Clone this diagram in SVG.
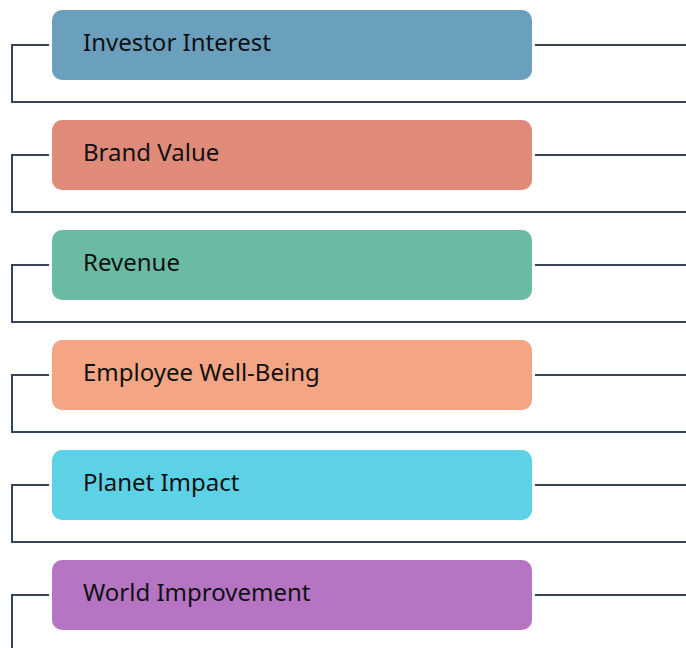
<svg xmlns="http://www.w3.org/2000/svg" width="686" height="648" viewBox="0 0 686 648">
<style>
.c{fill:none;stroke:#36445a;stroke-width:2}
.t{font-family:"Noto Sans","Open Sans",sans-serif;font-size:24px;fill:#111}
</style>
<rect width="686" height="648" fill="#fff"/>
<g id="connectors">
<path class="c" d="M49,45H12V102H686"/><path class="c" d="M535,45H686"/>
<path class="c" d="M49,155H12V212H686"/><path class="c" d="M535,155H686"/>
<path class="c" d="M49,265H12V322H686"/><path class="c" d="M535,265H686"/>
<path class="c" d="M49,375H12V432H686"/><path class="c" d="M535,375H686"/>
<path class="c" d="M49,485H12V542H686"/><path class="c" d="M535,485H686"/>
<path class="c" d="M49,595H12V648"/><path class="c" d="M535,595H686"/>
</g>
<g id="n1"><rect x="52" y="10" width="480" height="70" rx="10" fill="#6b9fbe"/><text class="t" x="83" y="51">Investor Interest</text></g>
<g id="n2"><rect x="52" y="120" width="480" height="70" rx="10" fill="#e08a7a"/><text class="t" x="83" y="161">Brand Value</text></g>
<g id="n3"><rect x="52" y="230" width="480" height="70" rx="10" fill="#6bbaa4"/><text class="t" x="83" y="271">Revenue</text></g>
<g id="n4"><rect x="52" y="340" width="480" height="70" rx="10" fill="#f4a583"/><text class="t" x="83" y="381">Employee Well-Being</text></g>
<g id="n5"><rect x="52" y="450" width="480" height="70" rx="10" fill="#5dd1e6"/><text class="t" x="83" y="491">Planet Impact</text></g>
<g id="n6"><rect x="52" y="560" width="480" height="70" rx="10" fill="#b575c3"/><text class="t" x="83" y="601">World Improvement</text></g>
</svg>
